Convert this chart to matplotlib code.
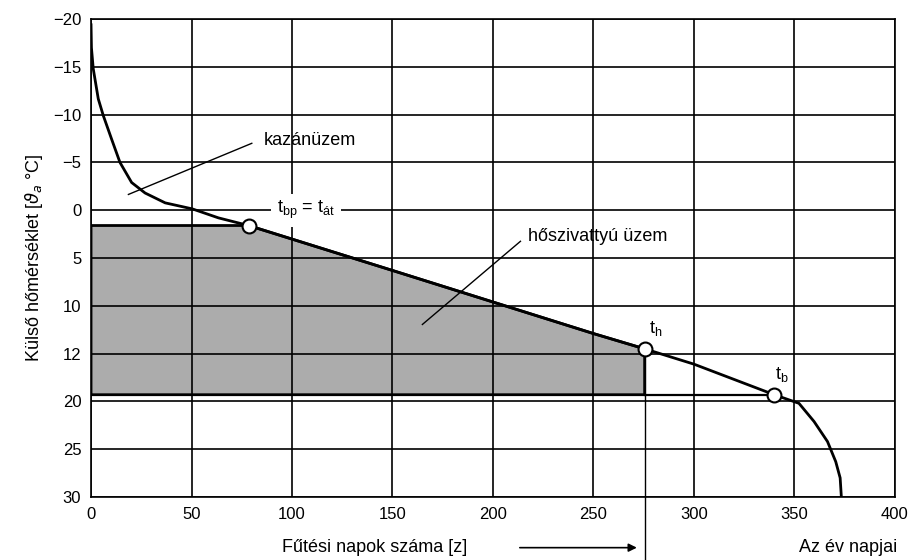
import numpy as np
import matplotlib
matplotlib.use('Agg')
import matplotlib.pyplot as plt

plt.rcParams['font.family'] = ['Liberation Sans', 'DejaVu Sans']

# Tengelyek (y: egyenletes osztás, a "12" felirat az eredeti ábrán is így szerepel)
y_pos = [-20, -15, -10, -5, 0, 5, 10, 15, 20, 25, 30]
y_labels = ['−20', '−15', '−10', '−5', '0', '5', '10', '12', '20', '25', '30']
x_ticks = [0, 50, 100, 150, 200, 250, 300, 350, 400]

# Tartamdiagram (napok, hőmérséklet-pozíció) az ábráról leolvasva
curve_days = [0, 0.2, 1.1, 3.6, 6.1, 10.3, 14.4, 20.2, 26.9, 36.9, 50.4, 63.4, 78.4,
              150, 200, 250, 275.5, 300, 320, 340, 352.3, 359.8, 366.5, 370.6, 372.8, 373.4]
curve_temp = [-19.4, -17.0, -14.8, -11.65, -9.9, -7.4, -5.0, -2.9, -1.8, -0.77, -0.14, 0.8, 1.6,
              6.3, 9.6, 12.9, 14.5, 16.1, 17.7, 19.3, 20.2, 22.1, 24.2, 26.3, 28.0, 30]

# Jellemző pontok
t_bp = (78.4, 1.6)
t_h = (275.5, 14.5)
t_b = (340, 19.3)

fig = plt.figure(figsize=(9.14, 5.6), dpi=100)
ax = fig.add_axes([0.0996, 0.1125, 0.8794, 0.8535])

# Hőszivattyús üzem - satírozott terület
poly_x = [0, t_bp[0]] + [d for d in curve_days if t_bp[0] < d < t_h[0]] + [t_h[0], t_h[0], 0]
poly_y = [t_bp[1], t_bp[1]] + [t for d, t in zip(curve_days, curve_temp) if t_bp[0] < d < t_h[0]] + [t_h[1], t_b[1], t_b[1]]
ax.fill(poly_x, poly_y, facecolor='#acacac', edgecolor='black', lw=2, zorder=0.5)

# rácsvonalak - mindenek fölé rajzolva, hogy a szürke területen is látszódjanak
ax.hlines(y_pos, 0, 400, colors='black', lw=1.2, zorder=3.5)
ax.vlines(x_ticks, -20, 30, colors='black', lw=1.2, zorder=3.5)

# alsó határvonal t_b-ig
ax.plot([t_h[0], t_b[0]], [t_b[1], t_b[1]], color='black', lw=1.6, zorder=3)

ax.plot(curve_days, curve_temp, color='black', lw=2, zorder=4)

for p in (t_bp, t_h, t_b):
    ax.plot(p[0], p[1], 'o', ms=10, mfc='white', mec='black', mew=1.5, zorder=5)

# függőleges vonal t_h-tól lefelé
ax.plot([t_h[0], t_h[0]], [t_h[1], 36.6], color='black', lw=1, clip_on=False, zorder=3)

ax.set_xlim(0, 400)
ax.set_ylim(30, -20)
ax.set_xticks(x_ticks)
ax.set_yticks(y_pos)
ax.set_yticklabels(y_labels)
ax.tick_params(length=0, labelsize=12, pad=7)
for s in ax.spines.values():
    s.set_linewidth(1.2)

ax.set_ylabel('Külső hőmérséklet [$\\vartheta_a$ °C]', fontsize=13, labelpad=6)

# Feliratok és mutatóvonalak
ax.plot([18.6, 80], [-1.65, -7.0], color='black', lw=1, zorder=4)
ax.text(86, -7.3, 'kazánüzem', fontsize=13, va='center')
ax.text(107, 0, '$\\mathregular{t_{bp}}$ = $\\mathregular{t_{át}}$', fontsize=13, ha='center', va='center',
        bbox=dict(facecolor='white', edgecolor='none', pad=4), zorder=6)
ax.plot([164.9, 213.7], [11.95, 3.25], color='black', lw=1, zorder=4)
ax.text(217.5, 2.7, 'hőszivattyú üzem', fontsize=13, va='center')
ax.text(281, 12.4, '$\\mathregular{t_h}$', fontsize=13, ha='center', va='center')
ax.text(344, 17.2, '$\\mathregular{t_b}$', fontsize=13, ha='center', va='center')

ax.text(141, 35.3, 'Fűtési napok száma [z]', fontsize=13, ha='center', va='center', clip_on=False)
ax.annotate('', xy=(273, 35.3), xytext=(212, 35.3), annotation_clip=False,
            arrowprops=dict(arrowstyle='-|>', color='black', lw=1.2, mutation_scale=12))
ax.text(401, 35.3, 'Az év napjai', fontsize=13, ha='right', va='center', clip_on=False)

fig.savefig('out.png', dpi=100)
